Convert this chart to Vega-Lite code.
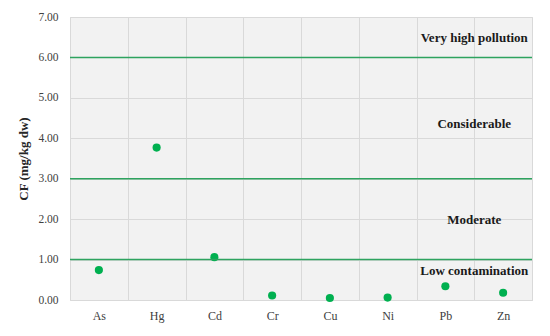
{
  "$schema": "https://vega.github.io/schema/vega-lite/v6.json",
  "autosize": {"type": "none"},
  "width": 462,
  "height": 283,
  "padding": {"left": 70, "top": 17, "right": 18, "bottom": 36},
  "background": "white",
  "config": {
    "view": {"fill": "#f2f2f2", "stroke": "#d9d9d9"},
    "font": "Liberation Serif"
  },
  "datasets": {
    "pts": [
      {"el": "As", "cf": 0.74},
      {"el": "Hg", "cf": 3.77},
      {"el": "Cd", "cf": 1.06},
      {"el": "Cr", "cf": 0.11},
      {"el": "Cu", "cf": 0.05},
      {"el": "Ni", "cf": 0.06},
      {"el": "Pb", "cf": 0.34},
      {"el": "Zn", "cf": 0.18}
    ],
    "thr": [{"v": 1}, {"v": 3}, {"v": 6}],
    "lab": [
      {"el": "Pb", "y": 6.49, "t": "Very high pollution"},
      {"el": "Pb", "y": 4.36, "t": "Considerable"},
      {"el": "Pb", "y": 1.98, "t": "Moderate"},
      {"el": "Pb", "y": 0.72, "t": "Low contamination"}
    ]
  },
  "layer": [
    {
      "data": {"name": "pts"},
      "mark": {"type": "point", "filled": true, "opacity": 1, "size": 66, "color": "#00b050"},
      "encoding": {
        "x": {
          "field": "el", "type": "nominal", "sort": null,
          "scale": {"type": "band", "paddingInner": 0, "paddingOuter": 0,
                    "domain": ["As", "Hg", "Cd", "Cr", "Cu", "Ni", "Pb", "Zn"]},
          "axis": {
            "title": null, "labelAngle": 0, "tickBand": "extent", "grid": true,
            "gridColor": "#d9d9d9", "ticks": false, "domain": false,
            "labelPadding": 10, "labelFontSize": 12, "labelColor": "#404040",
            "labelFont": "Liberation Serif"
          }
        },
        "y": {
          "field": "cf", "type": "quantitative",
          "scale": {"domain": [0, 7], "nice": false},
          "axis": {
            "title": "CF (mg/kg dw)", "values": [0, 1, 2, 3, 4, 5, 6, 7], "format": ".2f",
            "grid": true, "gridColor": "#d9d9d9", "ticks": false, "domain": false,
            "labelPadding": 12, "labelFontSize": 11.5, "labelColor": "#404040",
            "labelFont": "Liberation Serif",
            "titleFont": "Liberation Serif", "titleFontSize": 13, "titleFontWeight": "bold",
            "titleColor": "#262626", "titlePadding": 7
          }
        }
      }
    },
    {
      "data": {"name": "thr"},
      "mark": {"type": "rule", "color": "#2ea35f", "strokeWidth": 1.6},
      "encoding": {"y": {"field": "v", "type": "quantitative"}}
    },
    {
      "data": {"name": "lab"},
      "mark": {"type": "text", "font": "Liberation Serif", "fontWeight": "bold", "fontSize": 13, "color": "#1a1a1a", "align": "center", "baseline": "middle"},
      "encoding": {
        "x": {"field": "el", "type": "nominal", "bandPosition": 1, "sort": null},
        "y": {"field": "y", "type": "quantitative"},
        "text": {"field": "t"}
      }
    }
  ]
}
